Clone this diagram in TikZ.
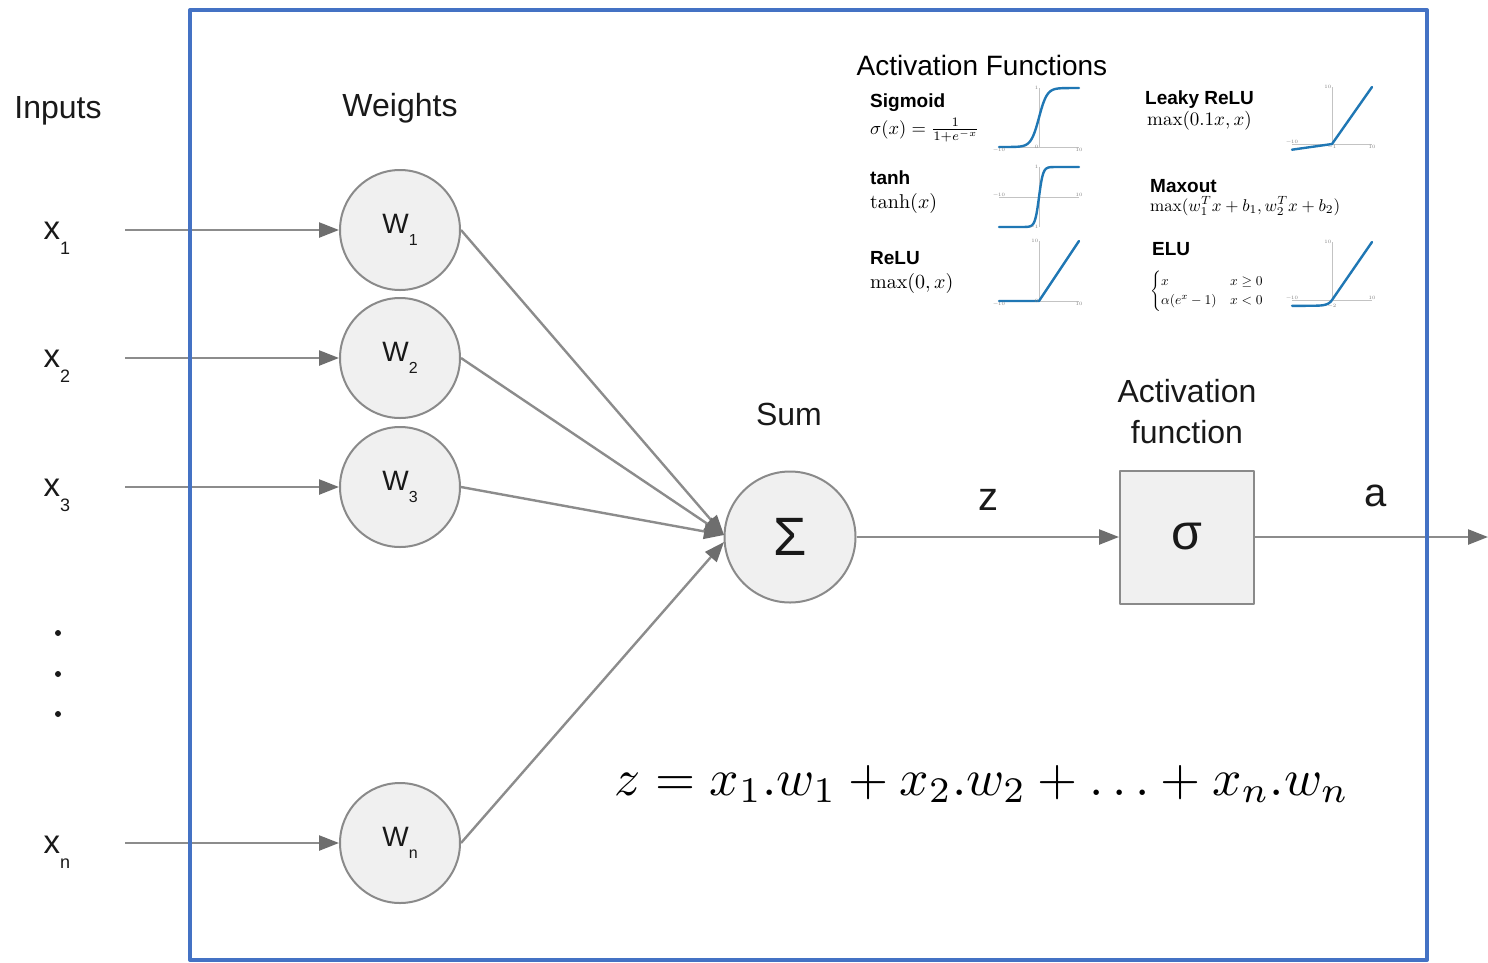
\documentclass[tikz,border=0pt]{standalone}
\usepackage{amsmath}
\usepackage{fontspec}
\setsansfont{Liberation Sans}
\usetikzlibrary{arrows.meta}

\newcommand{\fs}[1]{\fontsize{#1}{#1}\selectfont}
\newcommand{\lowsub}[2]{\raisebox{-0.45em}{\fs{#1}#2}}
% math is set at 10pt and magnified, so any size is available
\newcommand{\bigmath}[2]{\scalebox{#1}{$#2$}}

\definecolor{frameblue}{RGB}{68,114,196}
\definecolor{linegray}{RGB}{140,140,140}
\definecolor{tipgray}{RGB}{110,110,110}
\definecolor{nodefill}{RGB}{240,240,240}
\definecolor{nodeedge}{RGB}{138,138,138}
\definecolor{plotblue}{RGB}{31,119,180}
\definecolor{axisgray}{RGB}{195,195,195}
\definecolor{ink}{RGB}{25,25,25}

\begin{document}
\begin{tikzpicture}[x=1pt, y=-1pt, line join=round,
  arr/.style={draw=linegray, line width=2.4pt,
    -{Triangle[length=20pt,width=15pt,color=tipgray]}},
  weight/.style={circle, draw=nodeedge, fill=nodefill, line width=2pt,
    minimum size=120pt, inner sep=0pt, font=\sffamily\fs{28}, text=ink},
  sumnode/.style={circle, draw=nodeedge, fill=nodefill, line width=2pt,
    minimum size=131pt, inner sep=0pt, font=\sffamily\fs{54}, text=ink},
  boxnode/.style={rectangle, draw=nodeedge, fill=nodefill, line width=2pt,
    minimum width=134pt, minimum height=133pt, inner sep=0pt,
    font=\sffamily\fs{50}, text=ink},
  lab/.style={font=\sffamily\fs{32}, text=ink, inner sep=0pt},
  xlab/.style={font=\sffamily\fs{33}, text=ink, inner sep=0pt},
  dotmark/.style={circle, fill=ink, minimum size=6pt, inner sep=0pt},
  fname/.style={font=\sffamily\bfseries\fs{19}, text=black, anchor=base west, inner sep=0pt},
  fmath/.style={text=black, anchor=base west, inner sep=0pt},
  axis/.style={draw=axisgray, line width=0.9pt},
  curve/.style={draw=plotblue, line width=2.4pt, line cap=round},
  tick/.style={font=\fs{5}, text=gray, inner sep=0.6pt}
]
% canvas
\fill[white] (0,0) rectangle (1488,962);
\useasboundingbox (0,0) rectangle (1488,962);

% column headings
\node[lab] (hin) at (58,111) {Inputs};
\node[lab] (hw) at (400,108) {Weights};
\node[lab] (hsum) at (789,414) {Sum};
\node[lab, align=center, font=\sffamily\fontsize{32}{41}\selectfont] (hact) at (1187,412) {Activation\\function};

% inputs
\node[xlab] (x1) at (57,238) {x\lowsub{18}{1}};
\node[xlab] (x2) at (57,366) {x\lowsub{18}{2}};
\node[xlab] (x3) at (57,495) {x\lowsub{18}{3}};
\node[xlab] (xn) at (57,852) {x\lowsub{18}{n}};
\node[dotmark] (d1) at (58,633) {};
\node[dotmark] (d2) at (58,674) {};
\node[dotmark] (d3) at (58,714) {};

\coordinate (s1) at (125,230);
\coordinate (s2) at (125,358);
\coordinate (s3) at (125,487);
\coordinate (sn) at (125,843);

% weights
\node[weight] (w1) at (400,230) {W\lowsub{16}{1}};
\node[weight] (w2) at (400,358) {W\lowsub{16}{2}};
\node[weight] (w3) at (400,487) {W\lowsub{16}{3}};
\node[weight] (wn) at (400,843) {W\lowsub{16}{n}};

% summation and activation
\node[sumnode] (sum) at (790,537) {\raisebox{-5pt}{Σ}};
\node[boxnode] (act) at (1187,537) {\raisebox{-3pt}{σ}};
\coordinate (t1) at (724,535);
\coordinate (tn) at (724,542);
\coordinate (out) at (1488,537);

\node[font=\sffamily\fs{40}, text=ink] (zl) at (988,500) {z};
\node[font=\sffamily\fs{40}, text=ink] (al) at (1376,496) {a};

% connectors
\draw[arr] (s1) -- (w1);
\draw[arr] (s2) -- (w2);
\draw[arr] (s3) -- (w3);
\draw[arr] (sn) -- (wn);
\draw[arr] (w1.east) -- (t1);
\draw[arr] (w2.east) -- (t1);
\draw[arr] (w3.east) -- (t1);
\draw[arr] (wn.east) -- (tn);
\draw[arr] (sum) -- (act);
\draw[arr] (act) -- (out);

% weighted sum
\node[anchor=base, inner sep=0pt] (eq) at (982,795)
  {\bigmath{5.15}{z = x_1.w_1 + x_2.w_2 + \ldots + x_n.w_n}};

% activation function panel
\node[font=\sffamily\fs{28}, anchor=base, inner sep=0pt] (ptitle) at (982,75) {Activation Functions};

\node[fname] (nsig) at (870,107) {Sigmoid};
\node[fmath] (msig) at (870,134) {\bigmath{1.85}{\sigma(x) = \frac{1}{1+e^{-x}}}};
\node[fname] (ntanh) at (870,184) {tanh};
\node[fmath] (mtanh) at (870,208) {\bigmath{2}{\tanh(x)}};
\node[fname] (nrelu) at (870,264) {ReLU};
\node[fmath] (mrelu) at (870,288) {\bigmath{2}{\max(0,x)}};
\node[fname] (nleaky) at (1145,104) {Leaky ReLU};
\node[fmath] (mleaky) at (1147,125) {\bigmath{1.9}{\max(0.1x,x)}};
\node[fname] (nmax) at (1150,192) {Maxout};
\node[fmath] (mmax) at (1150,211) {\bigmath{1.7}{\max(w_1^Tx+b_1, w_2^Tx+b_2)}};
\node[fname] (nelu) at (1152,255) {ELU};
\node[anchor=west, inner sep=0pt] (melu) at (1150,291)
  {\bigmath{1.35}{\begin{cases} x & x\geq 0\\ \alpha(e^x-1) & x<0\end{cases}}};

% sigmoid plot
\begin{scope}[shift={(1039,147)}, x=4pt, y=59pt]
  \draw[axis] (-10,0) -- (10,0);
  \draw[axis] (0,0) -- (0,1);
  \draw[curve] (-10,0) -- plot[domain=-7:7, samples=60] (\x,{1/(1+exp(-\x))}) -- (10,1);
  \node[tick, anchor=east] at (0,1) {1};
  \node[tick, anchor=east] at (0,0) {0};
  \node[tick, anchor=north] at (-10,0) {−10};
  \node[tick, anchor=north] at (10,0) {10};
\end{scope}

% tanh plot
\begin{scope}[shift={(1039,197)}, x=4pt, y=30pt]
  \draw[axis] (-10,0) -- (10,0);
  \draw[axis] (0,-1) -- (0,1);
  \draw[curve] (-10,-1) -- plot[domain=-4:4, samples=60] (\x,{(exp(2*\x)-1)/(exp(2*\x)+1)}) -- (10,1);
  \node[tick, anchor=east] at (0,1) {1};
  \node[tick, anchor=east] at (0,-1) {−1};
  \node[tick, anchor=south] at (-10,0) {−10};
  \node[tick, anchor=south] at (10,0) {10};
\end{scope}

% ReLU plot
\begin{scope}[shift={(1039,301)}, x=4pt, y=6pt]
  \draw[axis] (-10,0) -- (10,0);
  \draw[axis] (0,0) -- (0,10);
  \draw[curve] (-10,0) -- (0,0) -- (10,10);
  \node[tick, anchor=east] at (0,10) {10};
  \node[tick, anchor=east] at (0,0) {0};
  \node[tick, anchor=north] at (-10,0) {−10};
  \node[tick, anchor=north] at (10,0) {10};
\end{scope}

% Leaky ReLU plot
\begin{scope}[shift={(1332,144)}, x=4pt, y=5.7pt]
  \draw[axis] (-10,0) -- (10,0);
  \draw[axis] (0,0) -- (0,10);
  \draw[curve] (-10,-1) -- (0,0) -- (10,10);
  \node[tick, anchor=east] at (0,10) {10};
  \node[tick, anchor=north] at (0,0) {−1};
  \node[tick, anchor=south] at (-10,0) {−10};
  \node[tick, anchor=north] at (10,0) {10};
\end{scope}

% ELU plot
\begin{scope}[shift={(1332,300)}, x=4pt, y=5.8pt]
  \draw[axis] (-10,0) -- (10,0);
  \draw[axis] (0,0) -- (0,10);
  \draw[curve] plot[domain=-10:0, samples=40] (\x,{exp(\x)-1}) -- (10,10);
  \node[tick, anchor=east] at (0,10) {10};
  \node[tick, anchor=north] at (0,-0.6) {−2};
  \node[tick, anchor=south] at (-10,0) {−10};
  \node[tick, anchor=south] at (10,0) {10};
\end{scope}

% frame
\draw[frameblue, line width=4pt] (190,10) rectangle (1427,960);
\end{tikzpicture}
\end{document}
